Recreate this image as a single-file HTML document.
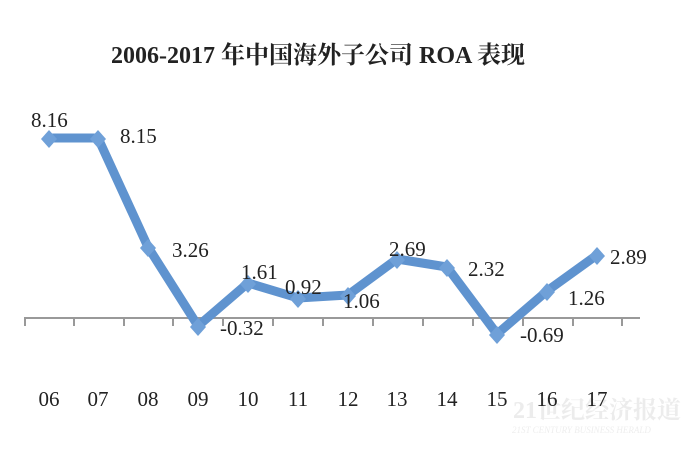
<!DOCTYPE html>
<html><head><meta charset="utf-8"><style>
body{margin:0;background:#fff;}
svg{display:block}
text{font-family:"Liberation Serif","Noto Serif CJK SC",serif;fill:#222}
</style></head><body>
<svg width="700" height="450" viewBox="0 0 700 450">
<rect width="700" height="450" fill="#fff"/>
<text x="513" y="418" font-size="24" font-weight="bold" style="fill:#ececec">21世纪经济报道</text>
<text x="512" y="433" font-size="9" font-style="italic" style="fill:#eeeeee">21ST CENTURY BUSINESS HERALD</text>
<text x="318" y="63" text-anchor="middle" font-size="24" font-weight="bold">2006-2017 年中国海外子公司 ROA 表现</text>
<g stroke="#999" stroke-width="2">
<line x1="24" y1="318" x2="640" y2="318"/>
<line x1="25" y1="318" x2="25" y2="326"/><line x1="74" y1="318" x2="74" y2="326"/>
<line x1="124" y1="318" x2="124" y2="326"/><line x1="173" y1="318" x2="173" y2="326"/>
<line x1="223" y1="318" x2="223" y2="326"/><line x1="273" y1="318" x2="273" y2="326"/>
<line x1="323" y1="318" x2="323" y2="326"/><line x1="373" y1="318" x2="373" y2="326"/>
<line x1="423" y1="318" x2="423" y2="326"/><line x1="473" y1="318" x2="473" y2="326"/>
<line x1="523" y1="318" x2="523" y2="326"/><line x1="573" y1="318" x2="573" y2="326"/>
<line x1="622" y1="318" x2="622" y2="326"/>
</g>
<polyline fill="none" stroke="#5f93cf" stroke-width="9" stroke-linejoin="round"
points="49,138 98,138 148,247 198,326 248,283 298,298 348,295 397,259 447,267 497,334 547,291 597,255"/>
<g fill="#6fa0d8">
<path d="M49,130 l8,9 l-8,9 l-8,-9z"/><path d="M98,130 l8,9 l-8,9 l-8,-9z"/>
<path d="M148,239 l8,9 l-8,9 l-8,-9z"/><path d="M198,318 l8,9 l-8,9 l-8,-9z"/>
<path d="M248,275 l8,9 l-8,9 l-8,-9z"/><path d="M298,290 l8,9 l-8,9 l-8,-9z"/>
<path d="M348,287 l8,9 l-8,9 l-8,-9z"/><path d="M397,251 l8,9 l-8,9 l-8,-9z"/>
<path d="M447,259 l8,9 l-8,9 l-8,-9z"/><path d="M497,326 l8,9 l-8,9 l-8,-9z"/>
<path d="M547,283 l8,9 l-8,9 l-8,-9z"/><path d="M597,247 l8,9 l-8,9 l-8,-9z"/>
</g>
<g font-size="21">
<text x="31" y="127">8.16</text>
<text x="120" y="143">8.15</text>
<text x="172" y="257">3.26</text>
<text x="220" y="335">-0.32</text>
<text x="241" y="279">1.61</text>
<text x="285" y="294">0.92</text>
<text x="343" y="308">1.06</text>
<text x="389" y="256">2.69</text>
<text x="468" y="276">2.32</text>
<text x="520" y="342">-0.69</text>
<text x="568" y="305">1.26</text>
<text x="610" y="264">2.89</text>
</g>
<g font-size="21" text-anchor="middle">
<text x="49" y="406">06</text><text x="98" y="406">07</text><text x="148" y="406">08</text>
<text x="198" y="406">09</text><text x="248" y="406">10</text><text x="298" y="406">11</text>
<text x="348" y="406">12</text><text x="397" y="406">13</text><text x="447" y="406">14</text>
<text x="497" y="406">15</text><text x="547" y="406">16</text><text x="597" y="406">17</text>
</g>
</svg>
</body></html>
